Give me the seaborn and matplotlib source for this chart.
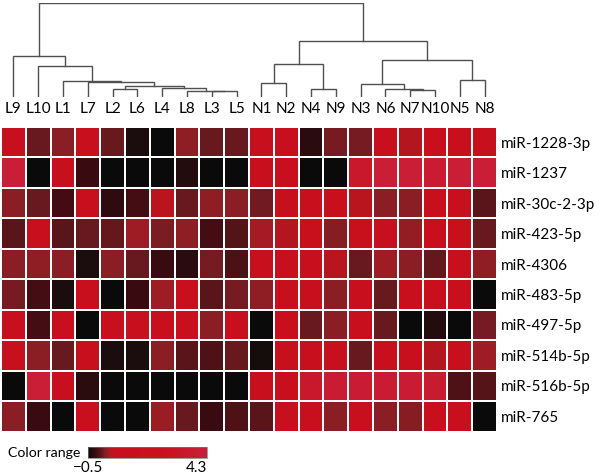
import numpy as np
import pandas as pd
import matplotlib
matplotlib.use("Agg")
import matplotlib.pyplot as plt
from matplotlib.colors import LinearSegmentedColormap
import seaborn as sns

# column order as shown (after clustering)
samples = ['L9', 'L10', 'L1', 'L7', 'L2', 'L6', 'L4', 'L8', 'L3', 'L5',
           'N1', 'N2', 'N4', 'N9', 'N3', 'N6', 'N7', 'N10', 'N5', 'N8']
mirnas = ['miR-1228-3p', 'miR-1237', 'miR-30c-2-3p', 'miR-423-5p', 'miR-4306',
          'miR-483-5p', 'miR-497-5p', 'miR-514b-5p', 'miR-516b-5p', 'miR-765']

# expression values, one row per miRNA
expr = [
    [1.5, 0.08, 0.2, 1.5, 0.08, -0.38, -0.5, 0.22, 0.08, 0.08, 1.5, 1.5, -0.3, 0.12, 0.12, 1.5, 0.4, 1.5, 1.5, 1.5],
    [4.1, -0.5, 1.5, -0.22, -0.5, -0.5, -0.5, -0.35, -0.5, -0.5, 1.5, 1.5, -0.5, -0.5, 3.4, 4.1, 4.1, 3.9, 4.1, 4.1],
    [0.2, 0.08, -0.18, 1.5, -0.28, -0.15, 0.45, 0.08, 0.22, 0.2, 0.1, 1.0, 1.5, 1.0, 0.42, 0.2, 0.2, 1.0, 1.5, 0.0],
    [0.0, 1.5, 0.0, 0.08, 0.05, 0.32, 0.15, 0.22, -0.15, -0.05, 0.35, 0.4, 1.0, 0.18, 0.8, 1.5, 0.25, 1.5, 1.0, 0.08],
    [0.2, 0.22, 0.2, -0.38, 0.2, 0.08, -0.22, -0.3, 0.12, -0.1, 1.5, 1.5, 1.5, 0.42, 0.08, 0.32, 0.2, 0.05, 1.5, 0.22],
    [0.12, -0.15, -0.38, 1.5, -0.5, -0.22, 0.32, 1.5, 0.0, 0.12, 0.22, 1.0, 1.5, 0.2, 1.5, 0.08, 1.5, 1.5, 1.5, -0.5],
    [1.5, -0.15, 1.5, -0.5, 1.5, 1.5, 1.5, 1.5, 0.2, 1.5, -0.5, 1.5, 0.08, 0.2, 1.5, 0.08, -0.5, -0.35, -0.5, 0.12],
    [1.5, 0.2, 0.08, 1.5, -0.38, -0.38, 0.2, 0.0, -0.08, 0.08, -0.42, 1.5, 1.5, 1.5, 0.08, 1.5, 1.5, 0.4, 1.5, 0.32],
    [-0.5, 4.1, 1.5, -0.3, -0.5, -0.5, -0.5, -0.5, -0.5, -0.5, 1.5, 1.5, 3.4, 3.9, 3.9, 3.9, 3.9, 3.7, -0.08, -0.02],
    [0.2, -0.22, -0.5, 1.5, -0.5, -0.5, 0.3, 0.08, -0.22, -0.08, 0.0, 1.5, 1.5, 0.2, 1.5, 0.2, 0.18, 1.5, 1.5, -0.5],
]

# column dendrogram: (left, right, height); 'mK' refers to the K-th merge
merges = [
    ('L3', 'L5', 5.5), ('L8', 'm0', 6.0), ('L4', 'm1', 8.3), ('L2', 'L6', 7.5),
    ('m3', 'm2', 11.0), ('L7', 'm4', 15.0), ('L1', 'm5', 15.7), ('L10', 'm6', 31.0),
    ('L9', 'm7', 40.7),
    ('N1', 'N2', 14.0), ('N4', 'N9', 7.4), ('m9', 'm10', 32.4), ('N7', 'N10', 6.3),
    ('N6', 'm12', 7.8), ('N3', 'm13', 12.4), ('N5', 'N8', 16.7), ('m14', 'm15', 36.7),
    ('m11', 'm16', 55.7), ('m8', 'm17', 94.0),
]

vmin, vmax = -0.5, 4.3

plt.rcParams['font.family'] = ['Lato', 'DejaVu Sans']

cmap = LinearSegmentedColormap.from_list('blk_red', [
    (0.0, '#0a0a0a'), (0.025, '#1c0d0d'), (0.058, '#3c0a10'), (0.0875, '#4f1216'),
    (0.104, '#5a1519'), (0.121, '#6b1a1f'), (0.146, '#8b1e24'), (0.171, '#a01c24'),
    (0.192, '#b8151f'), (0.229, '#c80f1c'), (0.625, '#c9101e'), (1.0, '#c92038'),
])

df = pd.DataFrame(expr, index=mirnas, columns=samples)

W, H = 600, 475
fig = plt.figure(figsize=(W / 100, H / 100), dpi=100)

def frac(x0, y0, x1, y1):
    # pixel box (top-left origin) -> figure fraction rect
    return [x0 / W, 1 - y1 / H, (x1 - x0) / W, (y1 - y0) / H]

ax = fig.add_axes(frac(1.0, 127.0, 497.0, 431.5))
dax = fig.add_axes(frac(1.0, 2.7, 497.0, 96.7))
cax = fig.add_axes(frac(88, 446.7, 207, 458.3))

sns.heatmap(df, ax=ax, cmap=cmap, vmin=vmin, vmax=vmax,
            linewidths=1.2, linecolor='white', cbar_ax=cax,
            cbar_kws={'orientation': 'horizontal', 'ticks': [vmin, vmax]})

fs = 11
ax.xaxis.tick_top()
ax.yaxis.tick_right()
ax.set_xlabel('')
ax.set_ylabel('')
ax.tick_params(axis='x', length=0, pad=8, labelsize=fs, rotation=0)
ax.tick_params(axis='y', length=0, pad=3, labelsize=fs, rotation=0)
for lab in ax.get_yticklabels():
    lab.set_ha('left')

# dendrogram
xpos = {s: i + 0.5 for i, s in enumerate(samples)}
hpos = {s: 0.0 for s in samples}
for k, (a, b, h) in enumerate(merges):
    xa, xb = xpos[a], xpos[b]
    dax.plot([xa, xa, xb, xb], [hpos[a], h, h, hpos[b]], color='#505050', lw=1.0,
             solid_joinstyle='miter')
    xpos['m%d' % k] = (xa + xb) / 2
    hpos['m%d' % k] = h
dax.set_xlim(0, len(samples))
dax.set_ylim(0, 94.5)
dax.axis('off')

# colour bar
cbar = ax.collections[0].colorbar
cbar.outline.set_linewidth(0.5)
cbar.outline.set_edgecolor('#777777')
cax.tick_params(length=0, pad=2, labelsize=fs)
tl = cax.get_xticklabels()
tl[1].set_ha('right')
fig.text(8 / W, 1 - 453 / H, 'Color range', fontsize=10.2, va='center', ha='left')

fig.savefig('out.png', dpi=100)
